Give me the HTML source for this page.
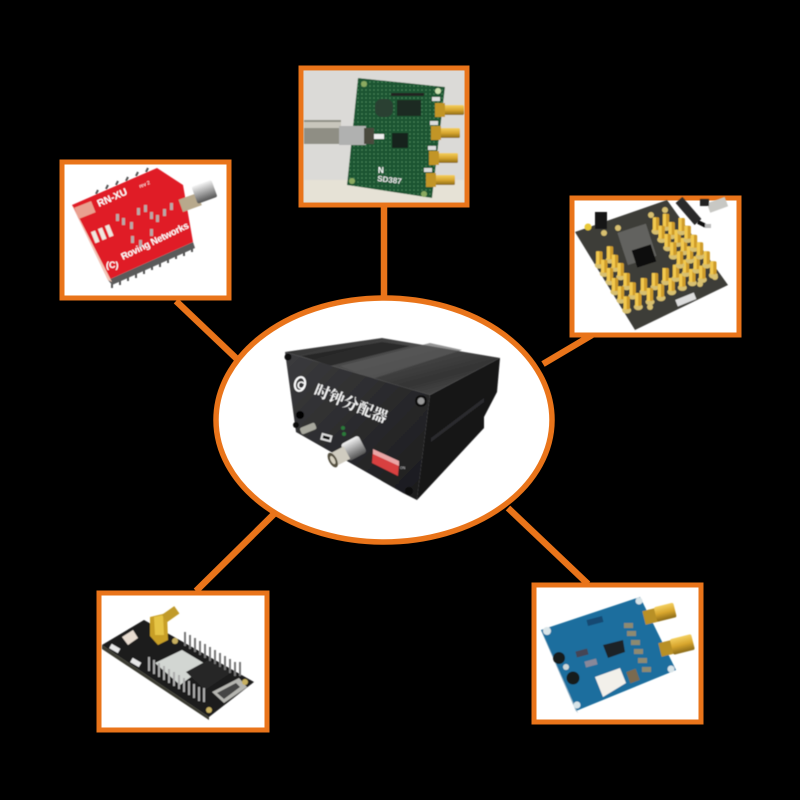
<!DOCTYPE html>
<html><head><meta charset="utf-8"><style>html,body{margin:0;padding:0;background:#000}svg{display:block}</style></head>
<body>
<svg width="800" height="800" viewBox="0 0 800 800" xmlns="http://www.w3.org/2000/svg" font-family="'Liberation Sans','Noto Sans CJK SC',sans-serif">
<defs>
<filter id="b"><feGaussianBlur stdDeviation="0.55"/></filter>
<linearGradient id="top" x1="0" y1="0" x2="1" y2="1"><stop offset="0" stop-color="#2a2a2a"/><stop offset=".4" stop-color="#4c4c4c"/><stop offset=".7" stop-color="#343434"/><stop offset="1" stop-color="#5a5a5a"/></linearGradient>
<linearGradient id="front" x1="0" y1="0" x2="1" y2="1"><stop offset="0" stop-color="#3c3c3e"/><stop offset="1" stop-color="#1a1a1c"/></linearGradient>
<linearGradient id="gold" x1="0" y1="0" x2="0" y2="1"><stop offset="0" stop-color="#f4d060"/><stop offset=".5" stop-color="#d8a62e"/><stop offset="1" stop-color="#8a6a18"/></linearGradient>
<linearGradient id="silver" x1="0" y1="0" x2="0" y2="1"><stop offset="0" stop-color="#f4f4f4"/><stop offset=".5" stop-color="#a5a5a5"/><stop offset="1" stop-color="#555"/></linearGradient>
<pattern id="dots" width="4" height="4" patternUnits="userSpaceOnUse"><rect width="4" height="4" fill="#1c5433"/><circle cx="2" cy="2" r=".8" fill="#4c8a5c"/></pattern>
<g id="sma"><ellipse cx="0" cy="7" rx="4.5" ry="3.2" fill="#d8c070"/><rect x="-3.2" y="-7" width="6.4" height="13" rx="1.5" fill="#cf9c2c"/><rect x="-3.2" y="-7" width="3.2" height="13" fill="#f2c94f"/></g>
<g id="smab"><rect x="2" y="-5" width="20" height="10" rx="1.5" fill="url(#gold)"/><rect x="-7" y="-7" width="10" height="14" fill="#c29526"/></g>
</defs>
<rect width="800" height="800" fill="#000"/>

<!-- connectors -->
<g stroke="#e9741a" stroke-width="6.5" fill="none">
<line x1="384" y1="205" x2="384" y2="300"/>
<line x1="176" y1="301" x2="238" y2="360"/>
<line x1="543" y1="364" x2="592" y2="335"/>
<line x1="196" y1="591" x2="274" y2="514"/>
<line x1="508" y1="508" x2="588" y2="584"/>
</g>

<!-- central ellipse -->
<ellipse cx="384" cy="420" rx="168" ry="122" fill="#fff" stroke="#e9741a" stroke-width="5.5"/>

<!-- device -->
<g filter="url(#b)">
<polygon points="430,395 500,358 497,392 484,417 484,428 417,500" fill="#171719"/>
<polygon points="431,438 484,398 484,402 431,442" fill="#2c2c2e"/>
<polygon points="285,352 382,338 500,358 430,395" fill="url(#top)"/>
<polygon points="340,366 430,343 462,350 372,379" fill="#5a5a5a" opacity=".65"/>
<polygon points="302,356 382,342 410,346 330,366" fill="#232323" opacity=".8"/>
<polygon points="285,352 430,395 417,500 403,493 296,432" fill="url(#front)"/>
<circle cx="288" cy="357" r="3.5" fill="#111"/><circle cx="421" cy="401" r="6" fill="#111"/><circle cx="421" cy="401" r="3.5" fill="#999"/>
<circle cx="409" cy="491" r="4" fill="#0c0c0c"/><circle cx="296" cy="425" r="3" fill="#0c0c0c"/>
<circle cx="300" cy="415" r="4" fill="#050505"/>
<ellipse cx="300" cy="384" rx="5" ry="7" fill="none" stroke="#fff" stroke-width="2" transform="rotate(15 300 384)"/>
<text x="297" y="389" font-size="11" font-weight="bold" fill="#fff">C</text>
<text x="313" y="394" font-size="15.5" font-weight="bold" fill="#f4f4f4" font-family="'Noto Serif CJK SC','Noto Sans CJK SC',sans-serif" transform="rotate(22 313 394)">时钟分配器</text>
<rect x="300" y="425" width="16" height="7" rx="2" fill="#a8a89e" transform="rotate(-22 308 428)"/>
<rect x="321" y="434" width="11" height="7" fill="#ddd" transform="rotate(15 326 437)"/>
<rect x="323" y="436" width="7" height="3" fill="#111" transform="rotate(15 326 437)"/>
<circle cx="343" cy="428" r="2" fill="#2a7a3a"/><circle cx="344" cy="434" r="2" fill="#2a7a3a"/>
<g transform="rotate(-28 350 452)">
<rect x="345" y="441" width="20" height="19" rx="3" fill="url(#silver)"/>
<rect x="332" y="444" width="15" height="14" fill="#d0ccc0"/>
<ellipse cx="331" cy="451" rx="4" ry="8" fill="#55503f"/>
<ellipse cx="331" cy="451" rx="2" ry="4.5" fill="#d6d0c0"/>
</g>
<polygon points="373,450 399,464 398,476 372,463" fill="#d84040"/>
<polygon points="373,449 399,461 399,466 373,454" fill="#eaa6a6"/>
<text x="400" y="469" font-size="3.5" fill="#ccc">ON</text>
</g>

<!-- TOP BOARD -->
<rect x="301" y="68" width="166" height="137" fill="#dcdad6" stroke="#e9741a" stroke-width="5"/>
<g filter="url(#b)">
<rect x="304" y="71" width="160" height="131" fill="#dbdad7"/>
<rect x="304" y="180" width="160" height="22" fill="#e6e2d6"/>
<polygon points="358,78 445,87 432,198 347,185" fill="url(#dots)"/>
<rect x="391" y="93" width="33" height="3" fill="#222"/>
<rect x="375" y="99" width="18" height="18" rx="7" fill="#2a4030"/>
<rect x="397" y="100" width="24" height="16" fill="#1a2a20"/>
<rect x="392" y="133" width="16" height="15" fill="#14201a"/>
<rect x="304" y="120" width="37" height="24" fill="#8f8e84"/>
<rect x="304" y="122" width="37" height="6" fill="#c8c6bc"/>
<rect x="339" y="126" width="27" height="19" fill="#b0b1b0"/>
<rect x="364" y="128" width="10" height="16" fill="#4a4a3c"/>
<rect x="374" y="134" width="10" height="5" fill="#eee"/>
<rect x="432" y="97" width="8" height="4" fill="#ddd"/><rect x="430" y="121" width="8" height="4" fill="#ddd"/><rect x="428" y="146" width="8" height="4" fill="#ddd"/><rect x="424" y="168" width="8" height="4" fill="#ddd"/>
<use href="#smab" x="442" y="110"/><use href="#smab" x="438" y="133"/><use href="#smab" x="436" y="158"/><use href="#smab" x="433" y="180"/>
<text x="377" y="181" font-size="8" font-weight="bold" fill="#e8e8e8" transform="rotate(7 377 181)">SD387</text>
<text x="378" y="173" font-size="8" font-weight="bold" fill="#fff">N</text>
<circle cx="364" cy="84" r="3" fill="#8aaa60"/><circle cx="438" cy="91" r="3" fill="#cde0b0"/><circle cx="352" cy="181" r="3" fill="#8aaa60"/><circle cx="424" cy="194" r="3" fill="#8aaa60"/>
</g>

<!-- LEFT BOARD -->
<rect x="62" y="162" width="167" height="136" fill="#fff" stroke="#e9741a" stroke-width="5"/>
<g filter="url(#b)">
<g stroke="#555" stroke-width="2"><path d="M112 284v4M120 280v5M128 276v5M136 273v5M144 269v5M152 265v5M160 262v5M168 258v5M176 254v5M184 251v5M192 247v5"/><path d="M96 194l2-4M106 189l2-4M116 185l2-4M126 181l2-4M136 176l2-4M146 172l2-4"/></g>
<polygon points="108,280 193,242 195,248 112,285" fill="#5a5a5a"/>
<polygon points="72,205 157,168 183,185 193,242 108,280" fill="#e01f28"/>
<polygon points="72,205 108,280 112,282 74,208" fill="#f2c8b8"/>
<rect x="180" y="196" width="20" height="13" fill="#b8a98c" transform="rotate(-20 190 202)"/>
<rect x="194" y="183" width="21" height="18" rx="2" fill="url(#silver)" transform="rotate(-20 204 192)"/>
<rect x="76" y="204" width="18" height="12" fill="#e9a090" transform="rotate(-22 85 210)"/>
<text x="99" y="207" font-size="10" font-weight="bold" fill="#fff" transform="rotate(-24 99 207)">RN-XU</text>
<text x="140" y="188" font-size="5" fill="#fff" transform="rotate(-22 140 188)">rev 2</text>
<text x="123" y="260" font-size="9.5" font-weight="bold" fill="#fff" transform="rotate(-26 123 260)" textLength="74">Roving Networks</text>
<text x="106" y="268" font-size="9" font-weight="bold" fill="#fff">(C)</text>
<g fill="#f0e8e0">
<rect x="93" y="231" width="4.5" height="12" transform="rotate(-22 95 237)"/><rect x="100" y="228" width="4.5" height="12" transform="rotate(-22 102 234)"/><rect x="107" y="225" width="4.5" height="12" transform="rotate(-22 109 231)"/>
</g>
<g fill="#b8a8a8">
<rect x="116" y="214" width="3" height="7"/><rect x="122" y="218" width="3" height="7"/><rect x="130" y="222" width="3" height="7"/><rect x="137" y="208" width="3" height="7"/><rect x="144" y="205" width="3" height="7"/><rect x="150" y="212" width="3" height="7"/><rect x="156" y="215" width="3" height="7"/><rect x="163" y="209" width="3" height="7"/><rect x="170" y="203" width="3" height="7"/><rect x="150" y="229" width="3" height="7"/><rect x="131" y="236" width="3" height="7"/><rect x="139" y="240" width="3" height="7"/>
</g>
</g>

<!-- RIGHT BOARD -->
<rect x="572" y="198" width="167" height="137" fill="#fff" stroke="#e9741a" stroke-width="5"/>
<g filter="url(#b)">
<polygon points="575,232 667,200 728,285 635,330" fill="#3c3c38"/>
<rect x="622" y="228" width="30" height="34" fill="#62625e" transform="rotate(-18 635 245)"/>
<rect x="634" y="247" width="20" height="18" fill="#101010" transform="rotate(-18 644 256)"/>
<path d="M679 200 L698 222" stroke="#2a2a2a" stroke-width="9"/><path d="M698 222 L706 226" stroke="#111" stroke-width="4"/>
<rect x="705" y="224" width="6" height="4" fill="#bbb"/>
<rect x="708" y="200" width="19" height="10" fill="#c8c8c4" transform="rotate(-20 717 205)"/>
<rect x="700" y="199" width="9" height="7" fill="#222"/>
<rect x="595" y="212" width="12" height="17" fill="#161616"/>
<circle cx="588" cy="227" r="3.5" fill="#e8c838"/>
<circle cx="604" cy="233" r="3" fill="#d8c070"/><circle cx="618" cy="228" r="3" fill="#d8c070"/><circle cx="651" cy="215" r="3" fill="#d8c070"/><circle cx="665" cy="210" r="3" fill="#d8c070"/><circle cx="650" cy="307" r="3" fill="#d8c070"/><circle cx="700" cy="284" r="3" fill="#d8c070"/><circle cx="715" cy="277" r="3" fill="#d8c070"/>
<rect x="676" y="296" width="20" height="7" fill="#ddd" transform="rotate(-22 686 300)"/>
<use href="#sma" x="599.3" y="258.3"/><use href="#sma" x="610" y="253.3"/><use href="#sma" x="604.3" y="266.7"/><use href="#sma" x="615" y="261.7"/><use href="#sma" x="610" y="275"/><use href="#sma" x="620.7" y="270"/><use href="#sma" x="615" y="285"/><use href="#sma" x="626.7" y="280"/><use href="#sma" x="621" y="293.3"/><use href="#sma" x="632.7" y="289.3"/><use href="#sma" x="626.7" y="303.3"/><use href="#sma" x="638.3" y="300"/>
<use href="#sma" x="644" y="285"/><use href="#sma" x="655" y="280"/><use href="#sma" x="650" y="295"/><use href="#sma" x="661" y="291"/><use href="#sma" x="665.7" y="275"/><use href="#sma" x="671.7" y="285"/><use href="#sma" x="676" y="271.7"/><use href="#sma" x="682.3" y="280.7"/><use href="#sma" x="686" y="266.7"/><use href="#sma" x="692.3" y="276"/><use href="#sma" x="696.7" y="263.3"/><use href="#sma" x="702.3" y="272.7"/><use href="#sma" x="706.7" y="258.3"/><use href="#sma" x="713.3" y="268.3"/>
<use href="#sma" x="656" y="224.3"/><use href="#sma" x="666" y="220.7"/><use href="#sma" x="661.7" y="232.7"/><use href="#sma" x="671.7" y="229"/><use href="#sma" x="667.7" y="241"/><use href="#sma" x="677.7" y="236.7"/><use href="#sma" x="673.3" y="249.3"/><use href="#sma" x="684" y="245"/><use href="#sma" x="680" y="258.3"/><use href="#sma" x="690" y="253.3"/><use href="#sma" x="681.7" y="225"/><use href="#sma" x="687.7" y="232.7"/><use href="#sma" x="694" y="241.7"/><use href="#sma" x="700" y="249.3"/>
</g>

<!-- BOTTOM LEFT BOARD -->
<rect x="99" y="593" width="168" height="137" fill="#fff" stroke="#e9741a" stroke-width="5"/>
<g filter="url(#b)">
<polygon points="102,645 144,620 254,682 209,717" fill="#1a1a1a"/>
<polygon points="102,645 209,717 209,720 102,649" fill="#3a3a30"/>
<polygon points="155,663 182,650 207,665 180,685" fill="#d2d6d2"/>
<polygon points="186,672 208,660 232,672 205,690" fill="#252525"/>
<polygon points="212,692 239,678 247,687 224,703" fill="#b5b5b0"/>
<polygon points="217,693 236,683 240,687 224,699" fill="#444"/>
<g stroke="#777" stroke-width="2">
<path d="M185 632v14M190 635v14M195 638v14M200 641v14M205 644v14M210 647v14M215 650v14M220 653v14M225 656v14M230 659v14M235 662v14M240 662v14"/>
</g>
<g stroke="#aaa" stroke-width="2">
<path d="M149 657v14M154 660v14M159 663v14M164 666v14M169 669v14M174 672v14M179 675v14M184 678v14M189 681v14M194 684v14M199 687v14M204 688v14"/>
</g>
<polygon points="150,617 167,613 168,640 158,645 150,636" fill="#c89f28"/>
<polygon points="154,617 163,615 164,635 155,635" fill="#e6c445"/>
<rect x="163" y="610" width="15" height="9" fill="#c09a2a" transform="rotate(-35 170 614)"/>
<polygon points="122,637 133,630 138,638 128,645" fill="#e8dcd0"/>
<rect x="110" y="646" width="10" height="5" fill="#e8e8e8" transform="rotate(30 115 648)"/>
<rect x="131" y="660" width="10" height="5" fill="#e8e8e8" transform="rotate(30 136 662)"/>
<circle cx="209" cy="710" r="3" fill="#c8b060"/><circle cx="245" cy="682" r="3" fill="#c8b060"/><circle cx="175" cy="641" r="3" fill="#c8b060"/>
</g>

<!-- BOTTOM RIGHT BOARD -->
<rect x="534" y="585" width="167" height="137" fill="#fff" stroke="#e9741a" stroke-width="5"/>
<g filter="url(#b)">
<polygon points="541,630 640,597 676,670 576,711" fill="#1b6e9e"/>
<polygon points="541,630 576,711 578,713 543,634" fill="#9ab8c8"/>
<rect x="587" y="618" width="16" height="6" fill="#134a72" transform="rotate(-15 595 621)"/>
<polygon points="603,645 623,640 625,652 608,658" fill="#1c2428"/>
<g transform="translate(644 618) rotate(-14)"><rect x="0" y="-7" width="14" height="14" fill="#b89028"/><rect x="12" y="-8" width="20" height="15" rx="2" fill="url(#gold)"/></g>
<g transform="translate(660 650) rotate(-14)"><rect x="0" y="-7" width="14" height="14" fill="#b89028"/><rect x="12" y="-8" width="22" height="16" rx="2" fill="url(#gold)"/></g>
<polygon points="595,677 620,668 626,683 603,697" fill="#f2f0ea"/>
<circle cx="559" cy="658" r="6" fill="#161a1a"/><circle cx="573" cy="678" r="6.5" fill="#161a1a"/><circle cx="566" cy="667" r="3" fill="#cfd8d8"/>
<rect x="576" y="650" width="12" height="6" fill="#445" transform="rotate(-15 582 653)"/>
<rect x="585" y="660" width="12" height="6" fill="#889" transform="rotate(-15 591 663)"/>
<g fill="#8d8a70">
<rect x="624" y="623" width="9" height="5"/><rect x="627" y="631" width="9" height="5"/><rect x="631" y="640" width="9" height="5"/><rect x="634" y="649" width="9" height="5"/><rect x="638" y="658" width="9" height="5"/><rect x="642" y="667" width="9" height="5"/>
</g>
<rect x="628" y="670" width="10" height="12" fill="#7a6a50" transform="rotate(-20 633 676)"/>
<circle cx="547" cy="631" r="4" fill="#d8e4e8"/><circle cx="639" cy="601" r="3.5" fill="#d8e4e8"/><circle cx="671" cy="669" r="3.5" fill="#d8e4e8"/><circle cx="577" cy="705" r="3.5" fill="#d8e4e8"/>
</g>
</svg>
</body></html>
